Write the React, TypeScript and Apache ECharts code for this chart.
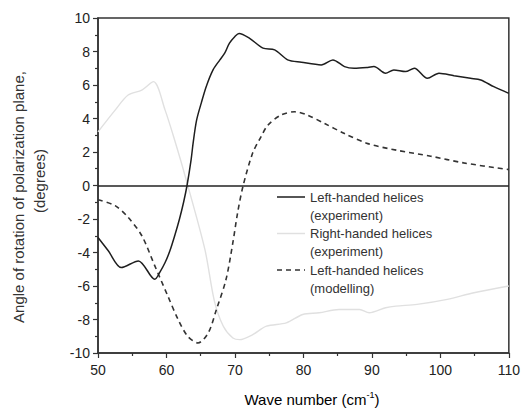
import React, { useEffect, useRef } from "react";
import * as echarts from "echarts";

const leftExpX = [50, 51.5, 53.4, 55.9, 58.3, 59.0, 59.8, 60.5, 61.2, 61.9, 62.5, 63.0, 63.6, 63.9, 64.4, 65.1, 65.8, 66.8, 67.8, 68.5, 69.2, 70.0, 70.6, 72.1, 74.1, 75.8, 77.7, 79.7, 82.6, 84.3, 86.0, 87.4, 89.4, 90.3, 92.0, 93.2, 94.9, 96.2, 98.1, 99.8, 102.0, 104.4, 105.9, 107.8, 110];
const leftExpY = [-3.1, -3.9, -4.9, -4.5, -5.6, -5.2, -4.6, -3.9, -3.0, -2.0, -1.0, 0, 1.55, 2.56, 3.9, 4.95, 5.9, 6.9, 7.5, 7.9, 8.5, 8.9, 9.08, 8.8, 8.2, 8.1, 7.5, 7.36, 7.2, 7.5, 7.1, 7.0, 7.05, 7.1, 6.7, 6.9, 6.8, 7.0, 6.4, 6.7, 6.55, 6.4, 6.3, 5.9, 5.5];

const rightExpX = [50, 52.5, 54.4, 56.4, 58.1, 59.8, 61.2, 62.7, 65.6, 67.0, 68.3, 69.7, 70.7, 72.6, 74.6, 77.5, 79.9, 82.3, 85.2, 88.2, 89.6, 92.0, 93.5, 96.6, 101.0, 104.9, 110];
const rightExpY = [3.2, 4.5, 5.4, 5.7, 6.2, 4.5, 2.7, 0.6, -3.8, -6.9, -8.4, -9.1, -9.2, -8.9, -8.4, -8.2, -7.7, -7.6, -7.4, -7.4, -7.6, -7.3, -7.2, -7.1, -6.8, -6.4, -6.0];

const leftModX = [50, 52.5, 54.4, 56.4, 58.3, 60.2, 61.7, 63.1, 64.6, 66.1, 67.3, 68.7, 69.7, 70.4, 71.2, 72.6, 73.8, 74.8, 76.7, 78.7, 80.6, 83.1, 86.0, 89.4, 93.7, 98.6, 103.4, 110];
const leftModY = [-0.85, -1.2, -1.9, -3.0, -4.8, -6.6, -8.0, -9.0, -9.4, -8.8, -7.4, -5.6, -3.4, -1.6, 0, 1.95, 2.9, 3.6, 4.2, 4.4, 4.2, 3.7, 3.1, 2.5, 2.1, 1.75, 1.35, 0.95];

const seriesNames = ["Left-handed helices", "Right-handed helices", "Left-handed helices"];
const seriesSubNames = ["(experiment)", "(experiment)", "(modelling)"];
const xTitle = "Wave number (cm";
const xTitleSup = "-1";
const yTitle1 = "Angle of rotation of polarization plane,";
const yTitle2 = "(degrees)";

const FONT = "'Liberation Sans', Arial, Helvetica, sans-serif";

const zip = (xs: number[], ys: number[]) => xs.map((x, i) => [x, ys[i]]);

export default function App() {
  const ref = useRef<HTMLDivElement>(null);
  useEffect(() => {
    if (!ref.current) return;
    const chart = echarts.init(ref.current, null, { renderer: "svg" });
    const lineColors = ["#1e1e1e", "#e0e0e0", "#333333"];
    const legendTop = 197;
    const legendStep = 36.5;
    const legendGraphics: any[] = [];
    seriesNames.forEach((n, i) => {
      const y = legendTop + i * legendStep;
      legendGraphics.push({
        type: "line",
        shape: { x1: 277, y1: y, x2: 305, y2: y },
        style: {
          stroke: lineColors[i],
          lineWidth: 1.5,
          lineDash: i === 2 ? [5, 4] : null,
        },
      });
      legendGraphics.push({
        type: "text",
        x: 310,
        y: y,
        style: {
          text: n,
          fill: "#333",
          font: `13px ${FONT}`,
          textAlign: "left",
          textVerticalAlign: "middle",
        },
      });
      legendGraphics.push({
        type: "text",
        x: 310,
        y: y + 18,
        style: {
          text: seriesSubNames[i],
          fill: "#333",
          font: `13px ${FONT}`,
          textAlign: "left",
          textVerticalAlign: "middle",
        },
      });
    });

    chart.setOption({
      animation: false,
      grid: {
        left: 98,
        right: 13,
        top: 18,
        bottom: 59,
        show: true,
        borderColor: "#333",
        borderWidth: 1.5,
        backgroundColor: "transparent",
      },
      xAxis: {
        type: "value",
        min: 50,
        max: 110,
        interval: 10,
        axisLine: { show: true, onZero: false, lineStyle: { color: "#333", width: 1.5 } },
        axisTick: { show: true, inside: false, length: 5, lineStyle: { color: "#333", width: 1.2 } },
        minorTick: { show: true, splitNumber: 2, length: 3, lineStyle: { color: "#333", width: 1.2 } },
        splitLine: { show: false },
        axisLabel: { color: "#222", fontSize: 14, fontFamily: FONT, margin: 10 },
      },
      yAxis: {
        type: "value",
        min: -10,
        max: 10,
        interval: 2,
        axisLine: { show: true, onZero: false, lineStyle: { color: "#333", width: 1.5 } },
        axisTick: { show: true, inside: false, length: 5, lineStyle: { color: "#333", width: 1.2 } },
        minorTick: { show: true, splitNumber: 2, length: 3, lineStyle: { color: "#333", width: 1.2 } },
        splitLine: { show: false },
        axisLabel: { color: "#222", fontSize: 14, fontFamily: FONT, margin: 8 },
      },
      graphic: [
        {
          type: "text",
          x: 18,
          y: 197,
          rotation: Math.PI / 2,
          style: {
            text: yTitle1,
            fill: "#333",
            font: `15px ${FONT}`,
            textAlign: "center",
            textVerticalAlign: "middle",
          },
        },
        {
          type: "text",
          x: 39,
          y: 181,
          rotation: Math.PI / 2,
          style: {
            text: yTitle2,
            fill: "#333",
            font: `15px ${FONT}`,
            textAlign: "center",
            textVerticalAlign: "middle",
          },
        },
        {
          type: "text",
          x: 312,
          y: 399,
          style: {
            text: `{a|${xTitle}}{s|${xTitleSup}}{a|)}`,
            textAlign: "center",
            textVerticalAlign: "middle",
            rich: {
              a: { fontSize: 15, fontFamily: FONT, color: "#333", lineHeight: 18 },
              s: { fontSize: 9, fontFamily: FONT, color: "#333", verticalAlign: "top", lineHeight: 18, padding: [0, 0, 6, 0] },
            },
          },
        },
        ...legendGraphics,
      ],
      series: [
        {
          name: "Right-handed helices (experiment)",
          type: "line",
          data: zip(rightExpX, rightExpY),
          smooth: 0.3,
          showSymbol: false,
          symbol: "none",
          lineStyle: { color: lineColors[1], width: 1.4 },
          z: 1,
        },
        {
          name: "Left-handed helices (modelling)",
          type: "line",
          data: zip(leftModX, leftModY),
          smooth: 0.3,
          showSymbol: false,
          symbol: "none",
          lineStyle: { color: lineColors[2], width: 1.6, type: [5, 4] },
          z: 2,
          markLine: {
            silent: true,
            symbol: "none",
            label: { show: false },
            lineStyle: { color: "#222", width: 1.5, type: "solid" },
            data: [{ yAxis: 0 }],
          },
        },
        {
          name: "Left-handed helices (experiment)",
          type: "line",
          data: zip(leftExpX, leftExpY),
          smooth: 0.3,
          showSymbol: false,
          symbol: "none",
          lineStyle: { color: lineColors[0], width: 1.5 },
          z: 3,
        },
      ],
    });
    return () => chart.dispose();
  }, []);
  return <div ref={ref} style={{ width: 523, height: 412, position: "absolute", left: 0, top: 0 }} />;
}
